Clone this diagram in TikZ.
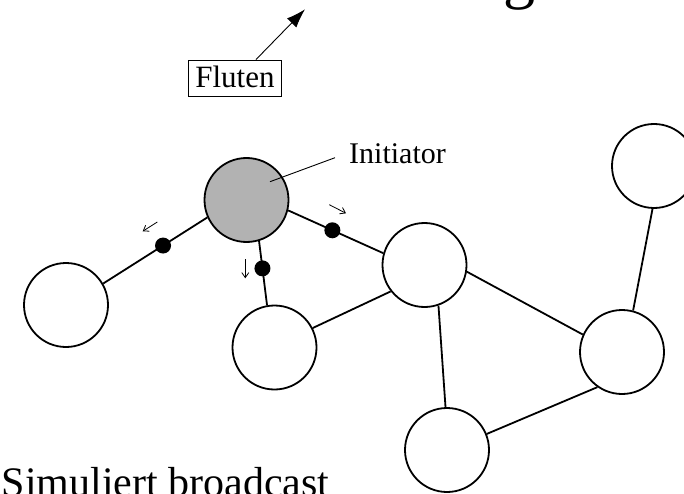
\documentclass[tikz,border=0pt]{standalone}
\usepackage{fontspec}
\setmainfont{Liberation Serif}
\usetikzlibrary{arrows.meta}
\begin{document}
\begin{tikzpicture}[x=1pt,y=-1pt,
  vertex/.style={circle,draw,line width=1.8pt,minimum size=84pt,inner sep=0pt,fill=white},
  initiator/.style={vertex,fill=black!30},
  link/.style={line width=1.8pt},
  msg/.style={circle,fill=black,minimum size=16pt,inner sep=0pt},
  hint/.style={line width=0.8pt,-{Straight Barb[length=5pt,width=7pt]}},
  pointer/.style={line width=0.9pt},
  textlabel/.style={anchor=base west,inner sep=0pt}]
  \useasboundingbox (0,0) rectangle (684,494);
  \clip (0,0) rectangle (684,494);

  % texts
  \node[textlabel,font=\fontsize{64pt}{64pt}\selectfont] (title) at (503,-3) {g};
  \node[textlabel,font=\fontsize{42pt}{42pt}\selectfont] (caption) at (1.5,496) {Simuliert broadcast};
  \node[anchor=base,draw,line width=0.9pt,inner xsep=6.5pt,inner ysep=6.3pt,
        text height=21pt,text depth=3pt,font=\fontsize{31pt}{31pt}\selectfont]
        (fluten) at (235,87.3) {Fluten};
  \node[textlabel,font=\fontsize{30pt}{30pt}\selectfont] (initlabel) at (349,163.3) {Initiator};

  % network nodes
  \node[initiator] (init) at (246.5,200) {};
  \node[vertex] (left)  at (66,305) {};
  \node[vertex] (bmid)  at (274.5,347.5) {};
  \node[vertex] (rmid)  at (424.5,265) {};
  \node[vertex] (right) at (622,352) {};
  \node[vertex] (bot)   at (447,450) {};
  \node[vertex] (top)   at (654,166) {};

  % links with messages in transit
  \draw[link] (init.204) -- node[msg,pos=.425] (m1) {} (left.30);
  \draw[link] (init.287) -- node[msg,pos=.426] (m2) {} (bmid.100);
  \draw[link] (init.-14) -- node[msg,pos=.465] (m3) {} (rmid.164);
  \draw[link] (bmid.27) -- (rmid.218);
  \draw[link] (rmid.289) -- (bot.92);
  \draw[link] (rmid.-9) -- (right.156);
  \draw[link] (right.235) -- (bot.22);
  \draw[link] (right.75) -- (top.268);

  % direction hints of the messages
  \coordinate (h1a) at (157.3,222);   \coordinate (h1b) at (142.7,231.3);
  \coordinate (h2a) at (245.3,259);   \coordinate (h2b) at (245.3,278.3);
  \coordinate (h3a) at (329.3,204.7); \coordinate (h3b) at (346,213.3);
  \draw[hint] (h1a) -- (h1b);
  \draw[hint] (h2a) -- (h2b);
  \draw[hint] (h3a) -- (h3b);

  % label pointer and Fluten arrow
  \coordinate (initspot) at (270,181.7);
  \coordinate (labelend) at (335,157.7);
  \draw[pointer] (initspot) -- (labelend);
  \coordinate (flutentip) at (305,9.3);
  \draw[pointer,-{Latex[length=19pt,width=13pt]}] ([xshift=21pt]fluten.north) -- (flutentip);
\end{tikzpicture}
\end{document}
